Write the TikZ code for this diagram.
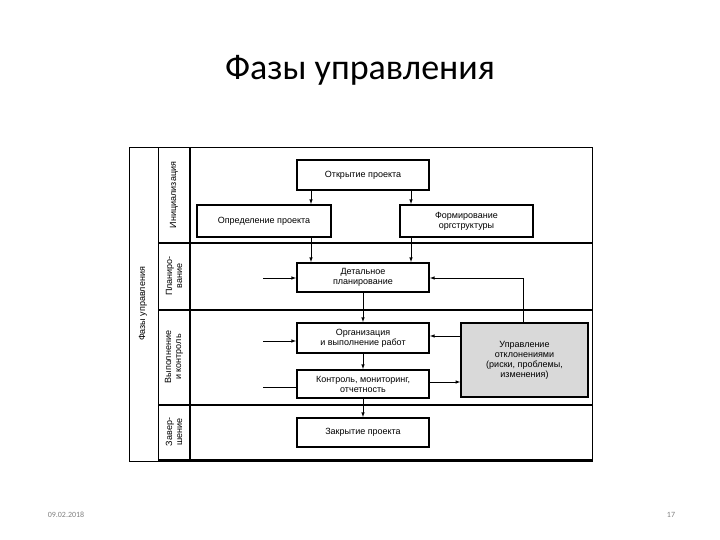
\documentclass[tikz,border=0pt]{standalone}
\usepackage{fontspec}
\setmainfont{Carlito}
\newfontfamily\arial{Liberation Sans}
\begin{document}
\begin{tikzpicture}[x=1pt,y=-1pt,
  bx/.style={draw,line width=2pt,align=center,font=\arial\fontsize{9}{10}\selectfont,inner sep=0pt},
  lab/.style={rotate=90,align=center,font=\arial\fontsize{9}{10}\selectfont},
  ar/.style={-latex,line width=0.6pt},
  ln/.style={line width=0.6pt}]
\useasboundingbox (0,0) rectangle (720,540);
\node (title) at (360,70) {\fontsize{36}{40}\selectfont Фазы управления};
\node[text=gray,font=\fontsize{8}{9}\selectfont] (date) at (66,515) {09.02.2018};
\node[text=gray,font=\fontsize{8}{9}\selectfont] (pg) at (671,515) {17};
% frame
\draw[line width=1pt] (129,148) rectangle (592,461);
\draw[line width=1pt] (158,148) -- (158,461);
\draw[line width=2pt] (190,148) -- (190,461);
\draw[line width=2pt] (158,243) -- (592,243);
\draw[line width=2pt] (158,310) -- (592,310);
\draw[line width=2pt] (158,405) -- (592,405);
\draw[line width=2pt] (158,460) -- (592,460);
\node[lab] (f) at (143,304) {Фазы управления};
\node[lab] (p1) at (174,195) {Инициализация};
\node[lab] (p2) at (174,276) {Планиро-\\вание};
\node[lab] (p3) at (174,357) {Выполнение\\и контроль};
\node[lab] (p4) at (174,432) {Завер-\\шение};
% boxes
\node[bx,minimum width=132pt,minimum height=30pt] (open) at (363,175) {Открытие проекта};
\node[bx,minimum width=134pt,minimum height=32pt] (def) at (264,221) {Определение проекта};
\node[bx,minimum width=133pt,minimum height=32pt] (org) at (466.5,221) {Формирование\\оргструктуры};
\node[bx,minimum width=132pt,minimum height=29pt] (plan) at (363,277.5) {Детальное\\планирование};
\node[bx,minimum width=132pt,minimum height=30pt] (exec) at (363,338) {Организация\\и выполнение работ};
\node[bx,minimum width=132pt,minimum height=28pt] (ctrl) at (363,384) {Контроль, мониторинг,\\отчетность};
\node[bx,minimum width=132pt,minimum height=29pt] (close) at (363,432.5) {Закрытие проекта};
\node[bx,fill=gray!30,line width=1.5pt,minimum width=127pt,minimum height=74pt] (dev) at (524.5,360) {Управление\\отклонениями\\(риски, проблемы,\\изменения)};
\coordinate (l1) at (263,278);
\coordinate (l2) at (263,341);
\coordinate (l3) at (263,387);
% arrows
\draw[ar] (open.south -| def.east) ++(-21,0) coordinate (a1) -- (a1 |- def.north);
\draw[ar] (open.south -| org.west) ++(12,0) coordinate (a2) -- (a2 |- org.north);
\draw[ar] (a1 |- def.south) -- (a1 |- plan.north);
\draw[ar] (a2 |- org.south) -- (a2 |- plan.north);
\draw[ar] (plan) -- (exec);
\draw[ar] (exec) -- (ctrl);
\draw[ar] (ctrl) -- (close);
\draw[ar] (l1) -- (l1 -| plan.west);
\draw[ar] (l2) -- (l2 -| exec.west);
\draw[ln] (l3) -- (l3 -| ctrl.west);
\draw[ar] (dev.west |- 0,336) -- (exec.east |- 0,336);
\draw[ar] (ctrl.east |- 0,382) -- (dev.west |- 0,382);
\draw[ar] (dev.north -| 523,0) -- (523,278) -- (plan.east |- 0,278);
\end{tikzpicture}
\end{document}
